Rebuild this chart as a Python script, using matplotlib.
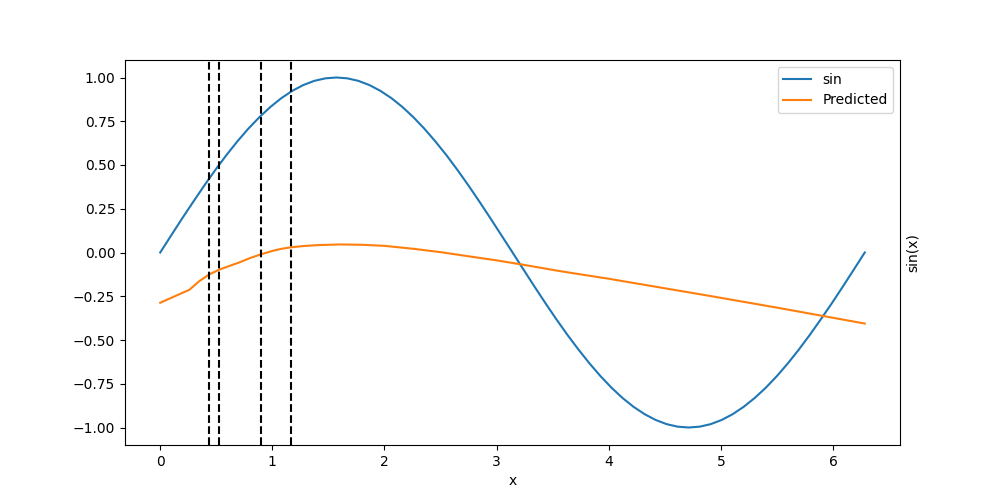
import matplotlib
matplotlib.use("Agg")
import matplotlib.pyplot as plt

# sin curve samples (x, sin(x))
sin_x = [0.000, 0.098, 0.196, 0.295, 0.393, 0.491, 0.589, 0.687, 0.785, 0.884,
         0.982, 1.080, 1.178, 1.276, 1.374, 1.473, 1.571, 1.669, 1.767, 1.865,
         1.963, 2.062, 2.160, 2.258, 2.356, 2.454, 2.553, 2.651, 2.749, 2.847,
         2.945, 3.043, 3.142, 3.240, 3.338, 3.436, 3.534, 3.632, 3.731, 3.829,
         3.927, 4.025, 4.123, 4.221, 4.320, 4.418, 4.516, 4.614, 4.712, 4.811,
         4.909, 5.007, 5.105, 5.203, 5.301, 5.400, 5.498, 5.596, 5.694, 5.792,
         5.890, 5.989, 6.087, 6.185, 6.283]
sin_y = [0.0000, 0.0980, 0.1951, 0.2903, 0.3827, 0.4714, 0.5556, 0.6344, 0.7071, 0.7730,
         0.8315, 0.8819, 0.9239, 0.9569, 0.9808, 0.9952, 1.0000, 0.9952, 0.9808, 0.9569,
         0.9239, 0.8819, 0.8315, 0.7730, 0.7071, 0.6344, 0.5556, 0.4714, 0.3827, 0.2903,
         0.1951, 0.0980, 0.0000, -0.0980, -0.1951, -0.2903, -0.3827, -0.4714, -0.5556, -0.6344,
         -0.7071, -0.7730, -0.8315, -0.8819, -0.9239, -0.9569, -0.9808, -0.9952, -1.0000, -0.9952,
         -0.9808, -0.9569, -0.9239, -0.8819, -0.8315, -0.7730, -0.7071, -0.6344, -0.5556, -0.4714,
         -0.3827, -0.2903, -0.1951, -0.0980, 0.0000]

# predicted curve
pred_x = [0.00, 0.26, 0.35, 0.44, 0.53, 0.62, 0.70, 0.80, 0.90, 1.00, 1.08, 1.17,
          1.28, 1.40, 1.60, 1.80, 2.00, 2.26, 2.50, 2.70, 3.00, 3.21, 3.57, 4.00,
          4.90, 5.50, 6.283]
pred_y = [-0.287, -0.213, -0.163, -0.124, -0.097, -0.076, -0.058, -0.032, -0.010, 0.009,
          0.021, 0.030, 0.037, 0.042, 0.046, 0.044, 0.038, 0.021, 0.002, -0.017,
          -0.045, -0.067, -0.107, -0.150, -0.248, -0.315, -0.406]

# vertical dashed markers
vlines = [0.434, 0.526, 0.900, 1.168]

fig, ax = plt.subplots(figsize=(10, 5), dpi=100)
ax.plot(sin_x, sin_y, label="sin")
ax.plot(pred_x, pred_y, label="Predicted")
for v in vlines:
    ax.axvline(v, color="k", linestyle="--")
ax.set_xlabel("x")
ax.set_ylabel("sin(x)")
ax.yaxis.set_label_position("right")
ax.legend(loc="upper right")
fig.savefig("out.png")
